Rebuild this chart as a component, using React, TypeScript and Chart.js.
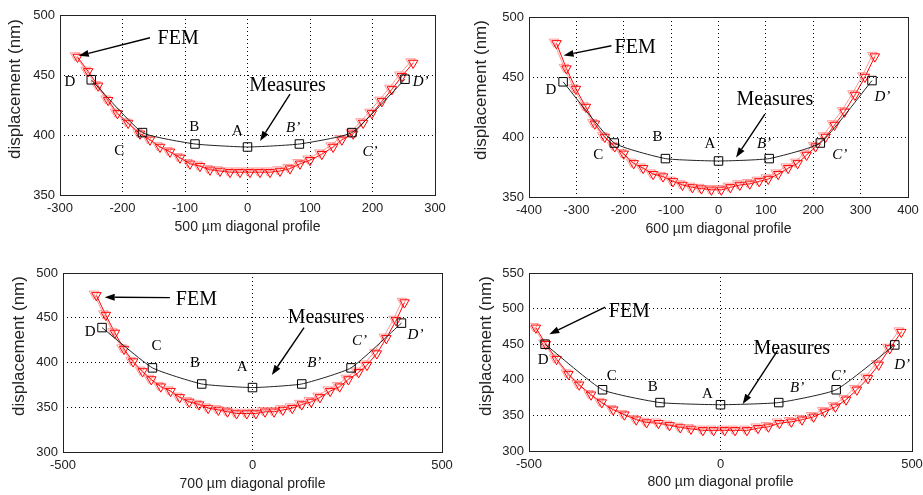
import React, { useEffect, useRef } from "react";
import { Chart, registerables } from "chart.js";
Chart.register(...registerables);

// ---------- DATA ----------
// 500 µm profile
const fem500X = [-272, -255, -239, -223, -208, -191, -172, -156, -140, -124, -108, -92, -76, -60, -44, -28, -12, 4, 20, 36, 52, 68, 84, 100, 119, 137, 151, 169, 185, 199, 215, 231, 247, 265];
const fem500Y = [465, 453, 441, 429, 418, 410, 401, 396, 390, 386, 381, 376, 374, 371, 370, 369, 369, 369, 369, 369, 370, 372, 376, 379, 384, 390, 396, 401, 410, 418, 428, 438, 449, 460];
const meas500X = [-250, -168, -84, 0, 83, 167, 252];
const meas500Y = [446, 402, 392.5, 390, 392.5, 402, 446.5];

// 600 µm profile
const fem600X = [-342, -321, -301, -280, -261, -240, -219, -200, -179, -159, -138, -117, -96, -76, -55, -36, -15, 6, 25, 45, 66, 86, 105, 126, 147, 167, 186, 205, 226, 245, 266, 288, 309, 330];
const fem600Y = [478, 457, 440, 425, 411, 400, 392, 386, 378, 374, 369, 367, 363, 360, 358, 357, 356, 356, 358, 360, 361, 363, 365, 369, 374, 378, 385, 392, 400, 410, 421, 435, 450, 467];
const meas600X = [-328, -220, -112, 0, 107, 215, 324];
const meas600Y = [446, 395, 382, 380, 382, 395, 447];

// 700 µm profile
const fem700X = [-412, -387, -363, -339, -315, -290, -267, -242, -216, -192, -167, -141, -117, -90, -66, -42, -15, 9, 33, 57, 80, 105, 130, 155, 178, 205, 230, 253, 280, 302, 328, 353, 379, 401];
const fem700Y = [475, 453, 433, 415, 401, 390, 381, 373, 368, 361, 356, 353, 349, 347, 345, 343, 343, 343, 345, 345, 347, 349, 353, 356, 361, 368, 373, 381, 389, 397, 410, 427, 447, 467];
const meas700X = [-397, -264, -134, 0, 130, 260, 393];
const meas700Y = [439, 394, 376, 372, 376, 394, 444];

// 800 µm profile
const fem800X = [-482, -456, -428, -397, -369, -338, -310, -280, -251, -220, -193, -162, -133, -105, -77, -46, -18, 11, 38, 69, 98, 125, 154, 185, 213, 243, 272, 300, 328, 356, 385, 413, 442, 472];
const fem800Y = [473, 450, 429, 408, 393, 379, 368, 358, 351, 344, 340, 339, 336, 333, 331, 329, 329, 329, 329, 329, 332, 334, 339, 341, 344, 348, 355, 362, 372, 386, 402, 421, 444, 467];
const meas800X = [-458, -308, -158, 0, 152, 302, 455];
const meas800Y = [450, 386, 368, 365, 368, 386, 449];

// point letters (last three italic)
const pointLetters = ["D", "C", "B", "A", "B\u2019", "C\u2019", "D\u2019"];
const letters500X = [-284, -205, -85, -16, 73, 196, 277];
const letters500Y = [444, 387, 407, 403, 406, 386, 444];
const letters600X = [-354, -254, -129, -18, 96, 256, 346];
const letters600Y = [439, 385, 400, 394, 394, 385, 433];
const letters700X = [-428, -253, -152, -27, 163, 282, 430];
const letters700Y = [434, 418, 399, 395, 399, 424, 431];
const letters800X = [-463, -284, -177, -34, 200, 308, 474];
const letters800Y = [428, 405, 390, 380, 389, 405, 421];

// callouts: text position [x, y], arrow [x1, y1, x2, y2] (data units)
const femText500 = [-111, 480];
const femArrow500 = [-156, 481, -270, 466];
const measText500 = [64, 441];
const measArrow500 = [68, 434, 20, 395];

const femText600 = [-176, 474];
const femArrow600 = [-226, 476, -327, 468];
const measText600 = [119, 431];
const measArrow600 = [98, 419, 37, 383];

const femText700 = [-148, 470];
const femArrow700 = [-218, 472.5, -390, 473];
const measText700 = [194, 450];
const measArrow700 = [136, 439, 51, 386];

const femText800 = [-238, 495];
const femArrow800 = [-301, 502, -447, 464];
const measText800 = [186, 444];
const measArrow800 = [149, 441, 58, 366];

const xTitles = ["500 \u00b5m diagonal profile", "600 \u00b5m diagonal profile", "700 \u00b5m diagonal profile", "800 \u00b5m diagonal profile"];
const yTitle = "displacement (nm)";

// ---------- LAYOUT / STYLE ----------
const SANS = "'Liberation Sans', Arial, sans-serif";
const SERIF = "'Liberation Serif', 'Times New Roman', serif";

type Panel = {
  left: number; top: number; w: number; h: number;
  area: { l: number; r: number; t: number; b: number };
  xMin: number; xMax: number; xStep: number;
  yMin: number; yMax: number; yStep: number;
  xTitle: string; xTitlePad: number; yTitlePos: [number, number];
  femX: number[]; femY: number[]; measX: number[]; measY: number[];
  lx: number[]; ly: number[];
  femText: number[]; femArrow: number[]; measText: number[]; measArrow: number[];
};

const panels: Panel[] = [
  {
    left: 0, top: 0, w: 460, h: 250, area: { l: 60, r: 435, t: 15, b: 195 },
    xMin: -300, xMax: 300, xStep: 100, yMin: 350, yMax: 500, yStep: 50,
    xTitle: xTitles[0], xTitlePad: 14, yTitlePos: [15, 89],
    femX: fem500X, femY: fem500Y, measX: meas500X, measY: meas500Y,
    lx: letters500X, ly: letters500Y,
    femText: femText500, femArrow: femArrow500, measText: measText500, measArrow: measArrow500,
  },
  {
    left: 460, top: 0, w: 463, h: 250, area: { l: 69, r: 448, t: 17, b: 197 },
    xMin: -400, xMax: 400, xStep: 100, yMin: 350, yMax: 500, yStep: 50,
    xTitle: xTitles[1], xTitlePad: 12, yTitlePos: [21, 90],
    femX: fem600X, femY: fem600Y, measX: meas600X, measY: meas600Y,
    lx: letters600X, ly: letters600Y,
    femText: femText600, femArrow: femArrow600, measText: measText600, measArrow: measArrow600,
  },
  {
    left: 0, top: 250, w: 460, h: 245, area: { l: 63, r: 442, t: 23, b: 202 },
    xMin: -500, xMax: 500, xStep: 500, yMin: 300, yMax: 500, yStep: 50,
    xTitle: xTitles[2], xTitlePad: 2, yTitlePos: [19, 96],
    femX: fem700X, femY: fem700Y, measX: meas700X, measY: meas700Y,
    lx: letters700X, ly: letters700Y,
    femText: femText700, femArrow: femArrow700, measText: measText700, measArrow: measArrow700,
  },
  {
    left: 460, top: 250, w: 463, h: 245, area: { l: 69, r: 452, t: 23, b: 201 },
    xMin: -500, xMax: 500, xStep: 500, yMin: 300, yMax: 550, yStep: 50,
    xTitle: xTitles[3], xTitlePad: 4, yTitlePos: [26, 96],
    femX: fem800X, femY: fem800Y, measX: meas800X, measY: meas800Y,
    lx: letters800X, ly: letters800Y,
    femText: femText800, femArrow: femArrow800, measText: measText800, measArrow: measArrow800,
  },
];

function drawArrow(ctx: CanvasRenderingContext2D, x1: number, y1: number, x2: number, y2: number) {
  const ang = Math.atan2(y2 - y1, x2 - x1);
  const hl = 10, hw = 3.5;
  const bx = x2 - Math.cos(ang) * hl, by = y2 - Math.sin(ang) * hl;
  ctx.beginPath();
  ctx.moveTo(x1, y1);
  ctx.lineTo(bx, by);
  ctx.strokeStyle = "#000";
  ctx.lineWidth = 1.4;
  ctx.stroke();
  ctx.beginPath();
  ctx.moveTo(x2, y2);
  ctx.lineTo(bx + Math.sin(ang) * hw, by - Math.cos(ang) * hw);
  ctx.lineTo(bx - Math.sin(ang) * hw, by + Math.cos(ang) * hw);
  ctx.closePath();
  ctx.fillStyle = "#000";
  ctx.fill();
}

function PanelChart({ p }: { p: Panel }) {
  const ref = useRef<HTMLCanvasElement>(null);
  useEffect(() => {
    // faint offset copy of the FEM marks (the doubled look of the original)
    const ghost = {
      id: "ghost" + p.xTitle,
      beforeDatasetDraw(chart: any, args: any) {
        if (args.index !== 1) return;
        const ctx = chart.ctx;
        ctx.save();
        ctx.shadowColor = "rgba(255,120,120,0.75)";
        ctx.shadowOffsetX = -2.5;
        ctx.shadowOffsetY = -1.5;
        ctx.shadowBlur = 0;
      },
      afterDatasetDraw(chart: any, args: any) {
        if (args.index !== 1) return;
        chart.ctx.restore();
      },
    };
    const overlay = {
      id: "overlay" + p.xTitle,
      afterDatasetsDraw(chart: any) {
        const ctx: CanvasRenderingContext2D = chart.ctx;
        const a = chart.chartArea;
        const xs = chart.scales.x, ys = chart.scales.y;
        ctx.save();
        // frame
        ctx.strokeStyle = "#222";
        ctx.lineWidth = 1;
        ctx.strokeRect(Math.round(a.left) + 0.5, Math.round(a.top) + 0.5, Math.round(a.right - a.left), Math.round(a.bottom - a.top));
        // letters
        ctx.fillStyle = "#000";
        ctx.textAlign = "center";
        ctx.textBaseline = "middle";
        pointLetters.forEach((t, i) => {
          ctx.font = (i >= 4 ? "italic " : "") + "15px " + SERIF;
          ctx.fillText(t, xs.getPixelForValue(p.lx[i]), ys.getPixelForValue(p.ly[i]));
        });
        ctx.font = "20px " + SERIF;
        ctx.fillText("FEM", xs.getPixelForValue(p.femText[0]), ys.getPixelForValue(p.femText[1]));
        ctx.fillText("Measures", xs.getPixelForValue(p.measText[0]), ys.getPixelForValue(p.measText[1]));
        for (const ar of [p.femArrow, p.measArrow]) {
          drawArrow(ctx, xs.getPixelForValue(ar[0]), ys.getPixelForValue(ar[1]), xs.getPixelForValue(ar[2]), ys.getPixelForValue(ar[3]));
        }
        // y title
        ctx.translate(p.yTitlePos[0], p.yTitlePos[1]);
        ctx.rotate(-Math.PI / 2);
        ctx.font = "17px " + SANS;
        ctx.fillStyle = "#222";
        ctx.fillText(yTitle, 0, 0);
        ctx.restore();
      },
    };
    const edgeColor = (min: number, max: number) => (c: any) =>
      c.tick && (c.tick.value === min || c.tick.value === max) ? "rgba(0,0,0,0)" : "#000";
    const chart = new Chart(ref.current!, {
      type: "scatter",
      data: {
        datasets: [
          {
            label: "Measures",
            data: p.measX.map((x, i) => ({ x, y: p.measY[i] })),
            showLine: true,
            borderColor: "#222",
            borderWidth: 1,
            tension: 0.15,
            pointStyle: "rect",
            pointRadius: 6,
            pointBorderColor: "#000",
            pointBackgroundColor: "rgba(0,0,0,0)",
            pointBorderWidth: 1,
          } as any,
          {
            label: "FEM",
            data: p.femX.map((x, i) => ({ x, y: p.femY[i] })),
            showLine: true,
            borderColor: "#ff0000",
            borderWidth: 1,
            tension: 0,
            pointStyle: "triangle",
            pointRotation: 180,
            pointRadius: 5.5,
            pointBorderColor: "#ff0000",
            pointBackgroundColor: "rgba(0,0,0,0)",
            pointBorderWidth: 1,
          } as any,
        ],
      },
      options: {
        responsive: false,
        animation: false,
        devicePixelRatio: 1,
        layout: { padding: { left: 0, top: p.area.t, right: p.w - p.area.r, bottom: 0 } },
        plugins: { legend: { display: false }, tooltip: { enabled: false } },
        scales: {
          x: {
            type: "linear",
            min: p.xMin, max: p.xMax,
            ticks: { stepSize: p.xStep, color: "#222", font: { family: SANS, size: 13 }, padding: 6, maxRotation: 0, autoSkip: false },
            grid: { color: edgeColor(p.xMin, p.xMax), lineWidth: 1, drawTicks: false },
            border: { display: false, dash: [1, 3] },
            title: { display: true, text: p.xTitle, color: "#222", font: { family: SANS, size: 14 }, padding: { top: 0, bottom: p.xTitlePad } },
            afterFit: (s: any) => { s.height = p.h - p.area.b; s.paddingLeft = 0; s.paddingRight = 0; },
          },
          y: {
            type: "linear",
            min: p.yMin, max: p.yMax,
            ticks: { stepSize: p.yStep, color: "#222", font: { family: SANS, size: 13 }, padding: 5 },
            grid: { color: edgeColor(p.yMin, p.yMax), lineWidth: 1, drawTicks: false },
            border: { display: false, dash: [1, 3] },
            afterFit: (s: any) => { s.width = p.area.l; s.paddingTop = 0; s.paddingBottom = 0; },
          },
        },
      } as any,
      plugins: [ghost as any, overlay as any],
    });
    return () => chart.destroy();
  }, []);
  return (
    <canvas
      ref={ref}
      width={p.w}
      height={p.h}
      style={{ position: "absolute", left: p.left, top: p.top, width: p.w, height: p.h }}
    />
  );
}

export default function App() {
  return (
    <div style={{ position: "absolute", left: 0, top: 0, width: 923, height: 495, background: "#fff" }}>
      {panels.map((p, i) => (
        <PanelChart key={i} p={p} />
      ))}
    </div>
  );
}
